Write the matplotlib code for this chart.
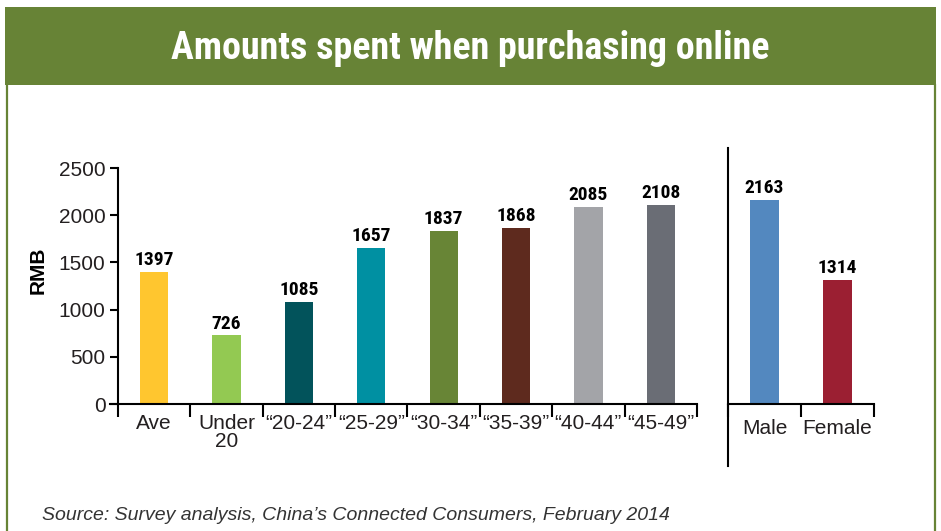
import matplotlib
matplotlib.use('Agg')
import matplotlib.pyplot as plt
from matplotlib.lines import Line2D
from matplotlib.patches import Rectangle
import numpy as np

# ── Data ──
age_groups = ['Ave', 'Under\n20', '\u201c20-24\u201d', '\u201c25-29\u201d', '\u201c30-34\u201d',
              '\u201c35-39\u201d', '\u201c40-44\u201d', '\u201c45-49\u201d']
age_values = [1397, 726, 1085, 1657, 1837, 1868, 2085, 2108]
age_colors = ['#ffc62f', '#93c952', '#02535b', '#0090a2', '#688536', '#5e2a1e', '#a3a4a8', '#6a6d75']

genders = ['Male', 'Female']
gender_values = [2163, 1314]
gender_colors = ['#5388bf', '#9b1f32']

y_ticks = [0, 500, 1000, 1500, 2000, 2500]

GREEN = '#678336'
TXT = '#231f20'
NARROW = ['Roboto Condensed', 'DejaVu Sans']
PLAIN = ['Liberation Sans', 'DejaVu Sans']

W, H = 941, 531
fig = plt.figure(figsize=(W / 100, H / 100), dpi=100)
fig.patch.set_facecolor('white')


def fx(px):
    return px / W


def fy(py):
    return 1 - py / H


# ── Header band and frame ──
fig.patches.append(Rectangle((fx(5), fy(85)), fx(931), 78 / H, transform=fig.transFigure,
                             facecolor=GREEN, edgecolor='none', zorder=0))
for xpx in (7, 935):
    fig.lines.append(Line2D([fx(xpx), fx(xpx)], [fy(85), 0], transform=fig.transFigure,
                            color=GREEN, linewidth=1.6))
fig.text(0.5, fy(48), 'Amounts spent when purchasing online', ha='center', va='center',
         color='white', fontsize=27.4, fontweight='bold', fontstretch='condensed', family=NARROW)

# ── Left chart: age groups ──
ax = fig.add_axes([fx(110), fy(404), fx(587), 236 / H])
x = np.arange(len(age_groups))
ax.bar(x, age_values, width=0.39, color=age_colors, zorder=2)
ax.set_xlim(-0.61, len(age_groups) - 0.5)
ax.set_ylim(0, 2500)
ax.spines['left'].set_position(('data', -0.5))
for s in ('top', 'right'):
    ax.spines[s].set_visible(False)
for s in ('left', 'bottom'):
    ax.spines[s].set_linewidth(1.5)
    ax.spines[s].set_color('black')

ax.set_yticks(y_ticks)
ax.set_yticklabels([str(v) for v in y_ticks], family=PLAIN, fontsize=15, color=TXT)
ax.tick_params(axis='y', length=6, width=1.5, pad=3)

ax.set_xticks(x)
ax.set_xticklabels(age_groups, family=PLAIN, fontsize=15, color=TXT, linespacing=0.95)
ax.set_xticks(np.arange(len(age_groups) + 1) - 0.5, minor=True)
ax.tick_params(axis='x', which='major', length=0, pad=7)
ax.tick_params(axis='x', which='minor', length=9, width=1.5)

for xi, v in zip(x, age_values):
    ax.annotate(str(v), (xi, v), textcoords='offset points', xytext=(0, 5), ha='center',
                va='baseline', fontsize=14, fontweight='bold', fontstretch='condensed',
                family=NARROW, color='black')

fig.text(fx(38), fy(270), 'RMB', rotation=90, ha='center', va='center',
         fontsize=15, fontweight='bold', family=PLAIN, color='black')

# ── Right chart: gender ──
ax2 = fig.add_axes([fx(728), fy(404), fx(146), 236 / H])
xg = np.arange(len(genders))
ax2.bar(xg, gender_values, width=0.39, color=gender_colors, zorder=2)
ax2.set_xlim(-0.5, len(genders) - 0.5)
ax2.set_ylim(0, 2500)
for s in ('top', 'right', 'left'):
    ax2.spines[s].set_visible(False)
ax2.spines['bottom'].set_linewidth(1.5)
ax2.set_yticks([])
ax2.set_xticks(xg)
ax2.set_xticklabels(genders, family=PLAIN, fontsize=15, color=TXT)
ax2.set_xticks(np.arange(len(genders) + 1) - 0.5, minor=True)
ax2.tick_params(axis='x', which='major', length=0, pad=11)
ax2.tick_params(axis='x', which='minor', length=9, width=1.5)

for xi, v in zip(xg, gender_values):
    ax2.annotate(str(v), (xi, v), textcoords='offset points', xytext=(0, 5), ha='center',
                 va='baseline', fontsize=14, fontweight='bold', fontstretch='condensed',
                 family=NARROW, color='black')

# separator line between the two panels
fig.lines.append(Line2D([fx(728), fx(728)], [fy(466), fy(148)], transform=fig.transFigure,
                        color='black', linewidth=1.5))

# ── Source note ──
fig.text(fx(42), fy(515), 'Source: Survey analysis, China\u2019s Connected Consumers, February 2014',
         ha='left', va='center', fontsize=14, style='italic', family=PLAIN, color='#333333')

fig.savefig('out.png', dpi=100, facecolor='white')
plt.close(fig)
